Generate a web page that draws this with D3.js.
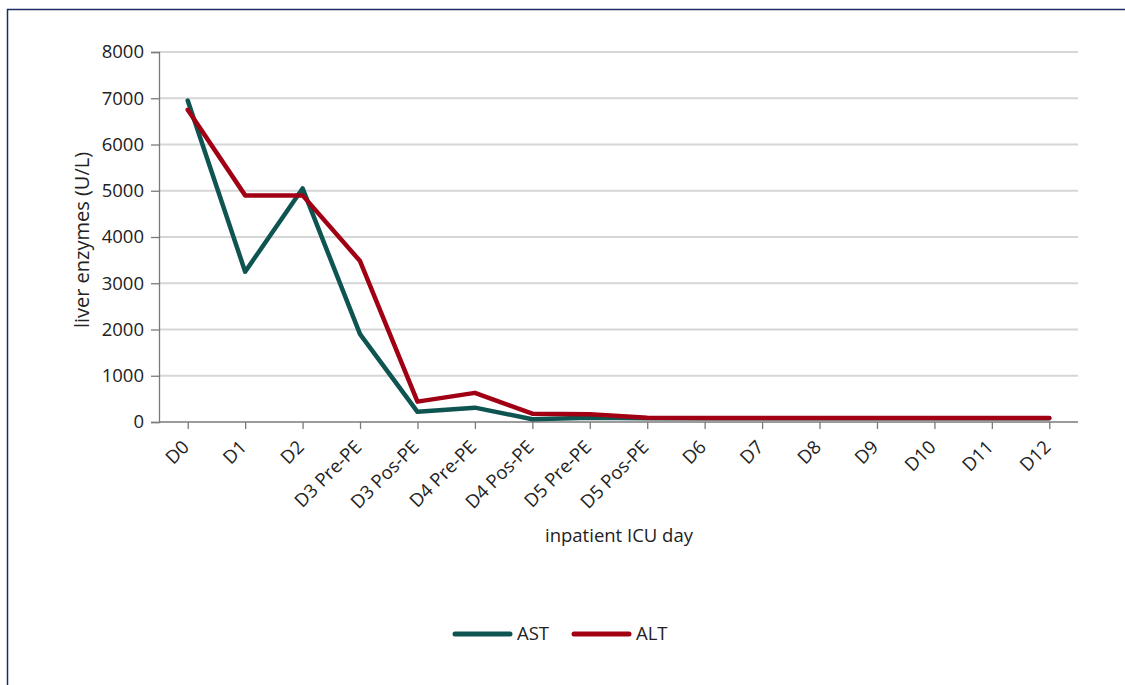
<!DOCTYPE html>
<html>
<head>
<meta charset="utf-8">
<script src="https://cdn.jsdelivr.net/npm/d3@7"></script>
<style>
  body { margin: 0; background: #fff; }
  text { font-family: "Open Sans", "Noto Sans", sans-serif; fill: #222; }
</style>
</head>
<body>
<svg id="chart" width="1125" height="685"></svg>
<script>
// categories (inpatient ICU day)
const days = ["D0", "D1", "D2", "D3 Pre-PE", "D3 Pos-PE", "D4 Pre-PE", "D4 Pos-PE",
  "D5 Pre-PE", "D5 Pos-PE", "D6", "D7", "D8", "D9", "D10", "D11", "D12"];
// series values (U/L)
const ast = [6950, 3250, 5050, 1900, 220, 310, 60, 90, 80, 80, 80, 80, 80, 80, 80, 80];
const alt = [6750, 4900, 4900, 3480, 440, 630, 180, 170, 90, 85, 85, 85, 85, 85, 85, 85];
const yTicks = [0, 1000, 2000, 3000, 4000, 5000, 6000, 7000, 8000];

const series = [
  { name: "AST", values: ast, color: "#0e5451" },
  { name: "ALT", values: alt, color: "#a10014" }
];

const FS = "18.5px";
const svg = d3.select("#chart");

// outer frame (top + left only visible)
svg.append("path")
  .attr("d", "M7.5,685 L7.5,9.5 L1125,9.5")
  .attr("fill", "none")
  .attr("stroke", "#1c2a66")
  .attr("stroke-width", 1.5);

const mLeft = 159, mRight = 1078, mTop = 52, mBottom = 422;

const x = d3.scaleBand().domain(days).range([mLeft, mRight]).padding(0);
const y = d3.scaleLinear().domain([0, 8000]).range([mBottom, mTop]);
const cx = d => x(d) + x.bandwidth() / 2;

// gridlines
svg.append("g")
  .selectAll("line")
  .data(yTicks.filter(d => d > 0))
  .join("line")
    .attr("x1", mLeft).attr("x2", mRight)
    .attr("y1", d => y(d)).attr("y2", d => y(d))
    .attr("stroke", "#d6d6d6")
    .attr("stroke-width", 2);

// y axis
const yAxis = svg.append("g")
  .attr("transform", `translate(${mLeft},0)`)
  .call(d3.axisLeft(y).tickValues(yTicks).tickSize(8).tickPadding(7).tickFormat(d3.format("d")));
yAxis.selectAll("text").attr("font-size", FS).style("font-family", "Open Sans, Noto Sans, sans-serif").attr("fill", "#222");
yAxis.selectAll("line, path").attr("stroke", "#7a7a7a").attr("stroke-width", 1.3);

// x axis: ticks at category centres
const xAxis = svg.append("g")
  .attr("transform", `translate(0,${mBottom})`)
  .call(d3.axisBottom(d3.scalePoint().domain(days).range([cx(days[0]), cx(days[days.length - 1])]))
    .tickSize(7).tickSizeOuter(0));
xAxis.select(".domain").remove();
xAxis.append("line")
  .attr("x1", mLeft).attr("x2", mRight)
  .attr("stroke", "#7a7a7a").attr("stroke-width", 1.3);
xAxis.selectAll(".tick line").attr("stroke", "#7a7a7a").attr("stroke-width", 1.3);
xAxis.selectAll(".tick text")
  .attr("font-size", FS)
  .style("font-family", "Open Sans, Noto Sans, sans-serif")
  .attr("fill", "#222")
  .attr("text-anchor", "end")
  .attr("y", 0)
  .attr("dx", "-17px")
  .attr("dy", "20px")
  .attr("transform", "rotate(-45)");

// lines
const line = d3.line()
  .x((d, i) => cx(days[i]))
  .y(d => y(d));

svg.append("g")
  .selectAll("path")
  .data(series)
  .join("path")
    .attr("d", d => line(d.values))
    .attr("fill", "none")
    .attr("stroke", d => d.color)
    .attr("stroke-width", 4.5)
    .attr("stroke-linejoin", "round")
    .attr("stroke-linecap", "round");

// axis titles
svg.append("text")
  .attr("transform", `translate(89,${(mTop + mBottom) / 2 + 3}) rotate(-90)`)
  .attr("text-anchor", "middle")
  .attr("font-size", "20px")
  .text("liver enzymes (U/L)");

svg.append("text")
  .attr("x", 619)
  .attr("y", 542)
  .attr("text-anchor", "middle")
  .attr("font-size", FS)
  .text("inpatient ICU day");

// legend
const legend = svg.append("g").attr("transform", "translate(455,634)");
const item = legend.selectAll("g")
  .data(series)
  .join("g")
    .attr("transform", (d, i) => `translate(${i * 119},0)`);
item.append("line")
  .attr("x1", 0).attr("x2", 55)
  .attr("stroke", d => d.color)
  .attr("stroke-width", 5)
  .attr("stroke-linecap", "round");
item.append("text")
  .attr("x", 62)
  .attr("y", 0)
  .attr("dy", "0.35em")
  .attr("font-size", FS)
  .text(d => d.name);
</script>
</body>
</html>
